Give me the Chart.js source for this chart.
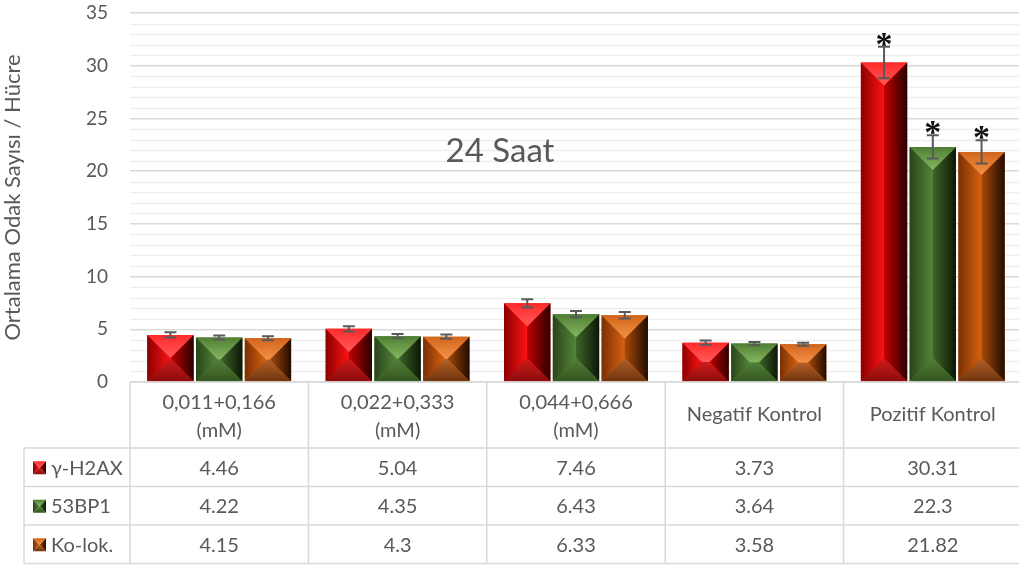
<!DOCTYPE html>
<html lang="tr">
<head>
<meta charset="UTF-8">
<title>24 Saat</title>
<style>
  body { margin: 0; background: #fff; overflow: hidden; }
  #wrap { width: 1019px; height: 567px; overflow: hidden; }
</style>
</head>
<body>
<div id="wrap"><canvas id="odakChart" width="1024" height="567"></canvas></div>
<script src="https://cdn.jsdelivr.net/npm/chart.js"></script>
<script>
// data
const categories = [['0,011+0,166', '(mM)'], ['0,022+0,333', '(mM)'], ['0,044+0,666', '(mM)'], 'Negatif Kontrol', 'Pozitif Kontrol'];
const seriesNames = ['γ-H2AX', '53BP1', 'Ko-lok.'];
const h2ax = [4.46, 5.04, 7.46, 3.73, 30.31];
const bp1 = [4.22, 4.35, 6.43, 3.64, 22.3];
const kolok = [4.15, 4.3, 6.33, 3.58, 21.82];
const h2axErr = [0.25, 0.25, 0.4, 0.2, 1.5];
const bp1Err = [0.2, 0.2, 0.3, 0.15, 1.1];
const kolokErr = [0.2, 0.2, 0.3, 0.15, 1.1];
const h2axStar = [false, false, false, false, true];
const bp1Star = [false, false, false, false, true];
const kolokStar = [false, false, false, false, true];
const yTicks = [0, 5, 10, 15, 20, 25, 30, 35];

const FONT = 'Lato, "Open Sans", sans-serif';
const GREY = '#595959';

// bevel shades: [outer, inner] for each face
const palettes = [
  { base: '#e00000', left: ['#8a0000', '#ff1212'], right: ['#c00000', '#2a0000'], top: ['#ff2a2a', '#ff5a5a'], bottom: ['#8c0c0c', '#d01c1c'] },
  { base: '#4f7a33', left: ['#2a4419', '#55853a'], right: ['#3f6628', '#0c1706'], top: ['#4f7e33', '#86b862'], bottom: ['#34561f', '#52803a'] },
  { base: '#c55a11', left: ['#7a3005', '#d8620f'], right: ['#a84a0a', '#220b00'], top: ['#d0651a', '#f59248'], bottom: ['#6e340c', '#b46028'] }
];

const errs = [h2axErr, bp1Err, kolokErr];
const stars = [h2axStar, bp1Star, kolokStar];

function poly(ctx, pts, fill) {
  ctx.beginPath();
  ctx.moveTo(pts[0][0], pts[0][1]);
  for (let i = 1; i < pts.length; i++) ctx.lineTo(pts[i][0], pts[i][1]);
  ctx.closePath();
  ctx.fillStyle = fill;
  ctx.fill();
}

function bevel(ctx, x0, y0, x1, y1, pal) {
  const w = x1 - x0, h = y1 - y0;
  const d = Math.min(w / 2, h / 2);
  const ix0 = x0 + d, ix1 = x1 - d, iy0 = y0 + d, iy1 = y1 - d;
  let g;
  g = ctx.createLinearGradient(x0, 0, ix0 + 0.01, 0);
  g.addColorStop(0, pal.left[0]); g.addColorStop(1, pal.left[1]);
  poly(ctx, [[x0, y0], [ix0, iy0], [ix0, iy1], [x0, y1]], g);
  g = ctx.createLinearGradient(ix1, 0, x1 + 0.01, 0);
  g.addColorStop(0, pal.right[0]); g.addColorStop(1, pal.right[1]);
  poly(ctx, [[x1, y0], [ix1, iy0], [ix1, iy1], [x1, y1]], g);
  g = ctx.createLinearGradient(0, y0, 0, iy0 + 0.01);
  g.addColorStop(0, pal.top[0]); g.addColorStop(1, pal.top[1]);
  poly(ctx, [[x0, y0], [x1, y0], [ix1, iy0], [ix0, iy0]], g);
  g = ctx.createLinearGradient(0, y1, 0, iy1 - 0.01);
  g.addColorStop(0, pal.bottom[0]); g.addColorStop(1, pal.bottom[1]);
  poly(ctx, [[x0, y1], [x1, y1], [ix1, iy1], [ix0, iy1]], g);
}

const bevelBars = {
  id: 'bevelBars',
  beforeDatasetsDraw(chart) {
    // minor gridlines every 1 unit
    const ctx = chart.ctx, y = chart.scales.y, a = chart.chartArea;
    ctx.save();
    ctx.strokeStyle = '#eeeeee';
    ctx.lineWidth = 1.5;
    for (let v = 1; v < 35; v++) {
      if (v % 5 === 0) continue;
      const py = Math.round(y.getPixelForValue(v)) + 0.5;
      ctx.beginPath(); ctx.moveTo(a.left, py); ctx.lineTo(a.right, py); ctx.stroke();
    }
    ctx.restore();
  },
  afterDatasetsDraw(chart) {
    const ctx = chart.ctx, ys = chart.scales.y;
    ctx.save();
    chart.data.datasets.forEach((ds, di) => {
      const meta = chart.getDatasetMeta(di);
      meta.data.forEach((bar, i) => {
        const p = bar.getProps(['x', 'y', 'base', 'width'], true);
        bevel(ctx, p.x - p.width / 2, p.y, p.x + p.width / 2, p.base, palettes[di]);
        // error bar
        const v = ds.data[i], e = errs[di][i];
        const yt = ys.getPixelForValue(v + e), yb = ys.getPixelForValue(v - e);
        ctx.strokeStyle = '#5a5a5a';
        ctx.lineWidth = 2;
        ctx.beginPath();
        ctx.moveTo(p.x, yt); ctx.lineTo(p.x, yb);
        ctx.moveTo(p.x - 6, yt); ctx.lineTo(p.x + 6, yt);
        ctx.moveTo(p.x - 6, yb); ctx.lineTo(p.x + 6, yb);
        ctx.stroke();
        if (stars[di][i]) {
          ctx.fillStyle = '#111';
          ctx.font = 'bold 34px "Liberation Serif", serif';
          ctx.textAlign = 'center';
          ctx.textBaseline = 'alphabetic';
          ctx.fillText('*', p.x, yt + 8);
        }
      });
    });
    ctx.restore();
  },
  afterDraw(chart) {
    const ctx = chart.ctx, xs = chart.scales.x, a = chart.chartArea;
    const n = categories.length;
    const half = (xs.getPixelForValue(1) - xs.getPixelForValue(0)) / 2;
    const edges = [];
    for (let i = 0; i < n; i++) edges.push(xs.getPixelForValue(i) - half);
    edges.push(xs.getPixelForValue(n - 1) + half);
    const top = a.bottom, catRow = top + 66, rowH = 38.5;
    const bottom = catRow + rowH * 3;
    const leftEdge = 24;
    ctx.save();
    ctx.strokeStyle = '#d9d9d9';
    ctx.lineWidth = 1.5;
    ctx.beginPath();
    ctx.moveTo(edges[0], top); ctx.lineTo(edges[n], top);
    for (let r = 0; r <= 3; r++) {
      const yy = catRow + r * rowH;
      ctx.moveTo(leftEdge, yy); ctx.lineTo(edges[n], yy);
    }
    edges.forEach(x => { ctx.moveTo(x, top); ctx.lineTo(x, bottom); });
    ctx.moveTo(leftEdge, catRow); ctx.lineTo(leftEdge, bottom);
    ctx.stroke();

    ctx.fillStyle = GREY;
    ctx.font = '20px ' + FONT;
    ctx.textAlign = 'center';
    ctx.textBaseline = 'middle';
    categories.forEach((c, i) => {
      const cx = (edges[i] + edges[i + 1]) / 2;
      if (Array.isArray(c)) {
        ctx.fillText(c[0], cx, top + 21);
        ctx.fillText(c[1], cx, top + 49);
      } else {
        ctx.fillText(c, cx, top + 33);
      }
    });
    chart.data.datasets.forEach((ds, di) => {
      const cy = catRow + rowH * di + rowH / 2;
      bevel(ctx, 33, cy - 6, 46, cy + 7, palettes[di]);
      ctx.fillStyle = GREY;
      ctx.textAlign = 'left';
      ctx.fillText(seriesNames[di], 51, cy + 1);
      ctx.textAlign = 'center';
      ds.data.forEach((v, i) => {
        ctx.fillText(String(v), (edges[i] + edges[i + 1]) / 2, cy + 1);
      });
    });

    // chart title inside the plot
    ctx.font = '33px ' + FONT;
    ctx.fillStyle = GREY;
    ctx.textAlign = 'center';
    ctx.fillText('24 Saat', 500, 151);
    ctx.restore();
  }
};

const data = {
  labels: categories,
  datasets: [h2ax, bp1, kolok].map((vals, i) => ({
    label: seriesNames[i],
    data: vals,
    backgroundColor: palettes[i].base,
    borderWidth: 0,
    categoryPercentage: 0.82,
    barPercentage: 0.95
  }))
};

const config = {
  type: 'bar',
  data: data,
  options: {
    responsive: false,
    animation: false,
    layout: { padding: { left: 0, right: 2, top: 13, bottom: 185 } },
    plugins: {
      legend: { display: false },
      tooltip: { enabled: false }
    },
    scales: {
      x: {
        display: false,
        grid: { display: false }
      },
      y: {
        min: 0,
        max: 35,
        afterBuildTicks(scale) { scale.ticks = yTicks.map(v => ({ value: v })); },
        afterFit(scale) {
          scale.width = 130;
          scale.paddingTop = 0;
          scale.paddingBottom = 0;
        },
        border: { display: false },
        grid: { color: '#d9d9d9', lineWidth: 1.5, drawTicks: false },
        ticks: { color: GREY, font: { family: FONT, size: 19 }, padding: 22 },
        title: {
          display: true,
          text: 'Ortalama Odak Sayısı / Hücre',
          color: GREY,
          font: { family: FONT, size: 22 },
          padding: { top: 0, bottom: 4 }
        }
      }
    }
  },
  plugins: [bevelBars]
};

const odakChart = new Chart(document.getElementById('odakChart'), config);
</script>
</body>
</html>
